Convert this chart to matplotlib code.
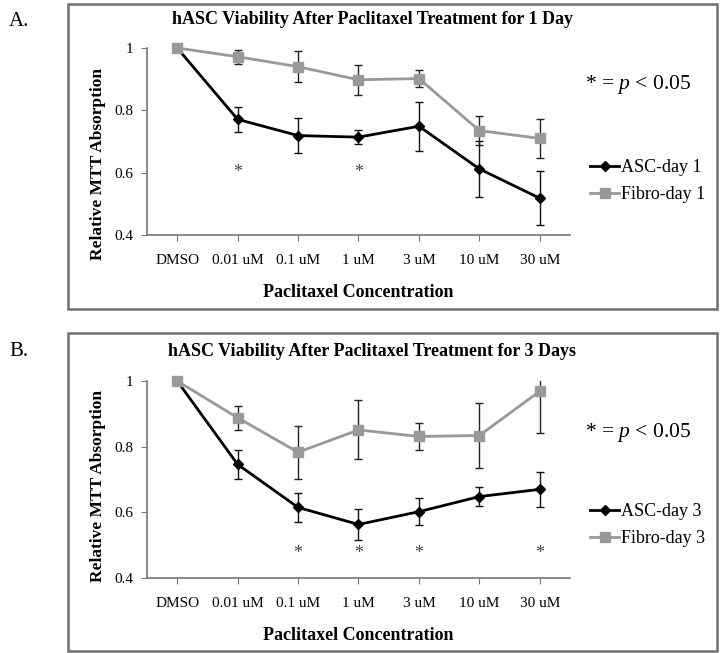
import matplotlib
matplotlib.use("Agg")
import matplotlib.pyplot as plt
from matplotlib.patches import Rectangle

plt.rcParams['font.family'] = ['Liberation Serif', 'DejaVu Serif']
plt.rcParams['mathtext.fontset'] = 'custom'
plt.rcParams['mathtext.it'] = 'Liberation Serif:italic'
plt.rcParams['mathtext.rm'] = 'Liberation Serif'

categories = ["DMSO", "0.01 uM", "0.1 uM", "1 uM", "3 uM", "10 uM", "30 uM"]
yticks = [0.4, 0.6, 0.8, 1.0]
ytick_labels = ["0.4", "0.6", "0.8", "1"]

asc_day1 = [1.0, 0.771, 0.719, 0.714, 0.749, 0.612, 0.518]
asc_day1_err = [0.0, 0.039, 0.057, 0.023, 0.079, 0.090, 0.086]
fibro_day1 = [1.0, 0.972, 0.940, 0.898, 0.902, 0.735, 0.710]
fibro_day1_err = [0.0, 0.023, 0.050, 0.048, 0.027, 0.047, 0.063]
sig_day1 = [1, 3]

asc_day3 = [1.0, 0.746, 0.615, 0.563, 0.602, 0.648, 0.670]
asc_day3_err = [0.0, 0.045, 0.043, 0.047, 0.042, 0.029, 0.053]
fibro_day3 = [1.0, 0.888, 0.783, 0.851, 0.831, 0.834, 0.969]
fibro_day3_err = [0.0, 0.037, 0.080, 0.090, 0.042, 0.100, 0.128]
sig_day3 = [2, 3, 4, 6]

W, H = 720, 653
fig = plt.figure(figsize=(W / 100, H / 100), dpi=100)


def fx(px):
    return px / W


def fy(py):
    return 1 - py / H


def panel(box_top, box_bot, ax_top, ax_bot, letter, letter_y, title, title_y,
          asc, asc_err, fib, fib_err, sig, sig_y, lab_day, pval_y, leg_y, ylab_y):
    fig.patches.append(Rectangle((fx(68), fy(box_bot)), fx(717) - fx(68),
                                 fy(box_top) - fy(box_bot), transform=fig.transFigure,
                                 fill=False, edgecolor='#707070', lw=1.8))
    fig.text(fx(9), fy(letter_y), letter, fontsize=15, va='center', ha='left')
    fig.text(fx(372), fy(title_y), title, fontsize=13, fontweight='bold',
             ha='center', va='center')
    axw = fx(570) - fx(147)
    ax = fig.add_axes([fx(147), fy(ax_bot), axw, fy(ax_top) - fy(ax_bot)])
    x = list(range(len(categories)))
    ax.errorbar(x, asc, yerr=asc_err, fmt='none', ecolor='#111111', elinewidth=1,
                capsize=3, capthick=1, clip_on=True, zorder=2)
    ax.errorbar(x, fib, yerr=fib_err, fmt='none', ecolor='#222222', elinewidth=1,
                capsize=3, capthick=1, clip_on=True, zorder=2)
    ax.plot(x, asc, color='black', marker='D', markersize=5.5, lw=2,
            label='ASC-day %d' % lab_day, clip_on=False, zorder=3)
    ax.plot(x, fib, color='#999999', marker='s', markersize=7, lw=2,
            label='Fibro-day %d' % lab_day, clip_on=False, zorder=4)
    for i in sig:
        ax.text(i, sig_y, '*', ha='center', va='center', fontsize=13, color='#444444')
    ax.set_xlim(-0.5, 6.5)
    ax.set_ylim(0.4, 1.0)
    ax.set_xticks(x)
    ax.set_xticklabels(categories, fontsize=11)
    ax.set_yticks(yticks)
    ax.set_yticklabels(ytick_labels, fontsize=11)
    for s in ['top', 'right']:
        ax.spines[s].set_visible(False)
    for s in ['left', 'bottom']:
        ax.spines[s].set_color('#777777')
        ax.spines[s].set_linewidth(1.2)
    ax.tick_params(axis='both', colors='#777777', labelcolor='black', length=4,
                   direction='out')
    ax.tick_params(axis='x', pad=10)
    ax.tick_params(axis='y', pad=6)
    ax.set_xlabel('Paclitaxel Concentration', fontsize=13, fontweight='bold', labelpad=12)
    ax.set_ylabel('Relative MTT Absorption', fontsize=12.5, fontweight='bold')
    ax.yaxis.set_label_coords((fx(106) - fx(147)) / axw,
                              (ax_bot - ylab_y) / (ax_bot - ax_top))
    fig.text(fx(585), fy(pval_y), r'* = $\mathit{p}$ < 0.05', fontsize=15.5,
             ha='left', va='center')
    handles, labels = ax.get_legend_handles_labels()
    fig.legend(handles, labels, loc='upper left',
               bbox_to_anchor=(fx(583), fy(leg_y)), frameon=False, fontsize=13,
               handlelength=1.6, handletextpad=0.1, labelspacing=0.55,
               borderaxespad=0)
    return ax


panel(4, 309, 48, 235, 'A.', 21, 'hASC Viability After Paclitaxel Treatment for 1 Day', 19,
      asc_day1, asc_day1_err, fibro_day1, fibro_day1_err, sig_day1, 0.6, 1, 84, 152, 164)
panel(333, 651, 381, 578, 'B.', 351, 'hASC Viability After Paclitaxel Treatment for 3 Days', 352,
      asc_day3, asc_day3_err, fibro_day3, fibro_day3_err, sig_day3, 0.475, 3, 433, 496, 486)

fig.savefig('out.png', dpi=100)
